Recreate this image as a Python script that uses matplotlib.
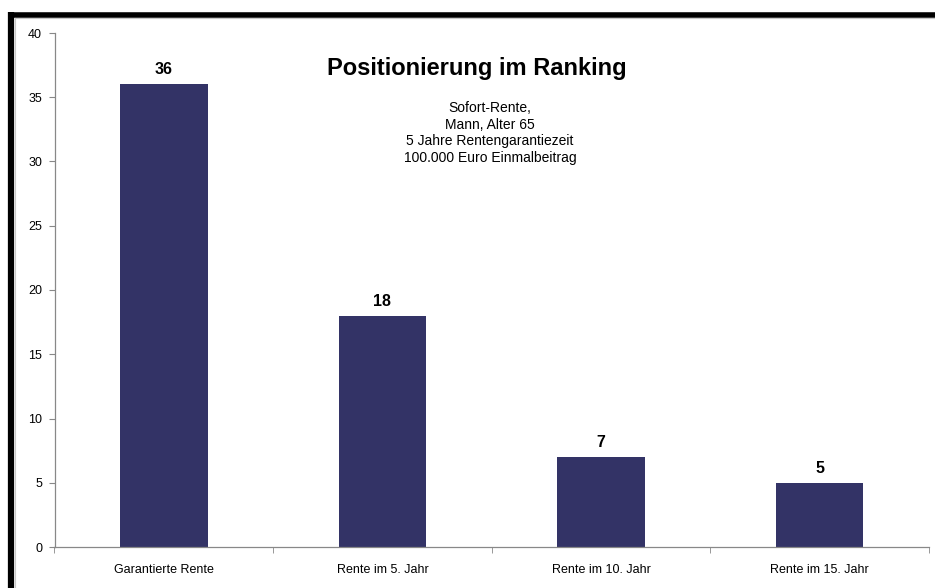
import matplotlib
matplotlib.use("Agg")
import matplotlib.pyplot as plt
from matplotlib.lines import Line2D

plt.rcParams['font.family'] = ['Liberation Sans', 'DejaVu Sans']

categories = ["Garantierte Rente", "Rente im 5. Jahr", "Rente im 10. Jahr", "Rente im 15. Jahr"]
values = [36, 18, 7, 5]
yticks = [0, 5, 10, 15, 20, 25, 30, 35, 40]
title = "Positionierung im Ranking"
subtitle = "Sofort-Rente,\nMann, Alter 65\n5 Jahre Rentengarantiezeit\n100.000 Euro Einmalbeitrag"

W, H = 935, 588
fig = plt.figure(figsize=(W / 100, H / 100), dpi=100)
ax = fig.add_axes([54.5 / W, 1 - 547 / H, (929 - 54.5) / W, (547 - 33) / H])

x = list(range(len(categories)))
ax.bar(x, values, width=0.4, color="#333366", zorder=2)
for xi, v in zip(x, values):
    ax.text(xi, v + 0.55, str(v), ha="center", va="bottom", fontsize=11.5, fontweight="bold")

ax.set_xlim(-0.5, len(categories) - 0.5)
ax.set_ylim(0, 40)
ax.set_yticks(yticks)
ax.set_yticklabels([str(t) for t in yticks], fontsize=9)
ax.set_xticks(x)
ax.set_xticklabels(categories, fontsize=9)
ax.tick_params(axis="x", length=0, pad=12)
ax.set_xticks([i - 0.5 for i in range(len(categories) + 1)], minor=True)
ax.tick_params(axis="x", which="minor", length=4, color="#888888", direction="out")
ax.tick_params(axis="y", length=4, color="#888888", direction="out", pad=5)

for s in ["top", "right"]:
    ax.spines[s].set_visible(False)
for s in ["left", "bottom"]:
    ax.spines[s].set_color("#888888")
    ax.spines[s].set_linewidth(0.9)

fig.text(477 / W, 1 - 68 / H, title, ha="center", va="center", fontsize=17, fontweight="bold")
fig.text(490 / W, 1 - 133 / H, subtitle, ha="center", va="center", fontsize=10, linespacing=1.25)

# frame lines (black border at left and top, gray inner line)
fig.add_artist(Line2D([11 / W, 11 / W], [0, 1 - 12 / H], color="black", linewidth=4.5, transform=fig.transFigure, solid_capstyle="butt"))
fig.add_artist(Line2D([8 / W, 1], [1 - 14.5 / H, 1 - 14.5 / H], color="black", linewidth=4.0, transform=fig.transFigure, solid_capstyle="butt"))
fig.add_artist(Line2D([14.5 / W, 1], [1 - 18 / H, 1 - 18 / H], color="#c8c8c8", linewidth=0.8, transform=fig.transFigure))
fig.add_artist(Line2D([15 / W, 15 / W], [0, 1 - 18 / H], color="#c8c8c8", linewidth=0.8, transform=fig.transFigure))

fig.savefig("out.png", dpi=100)
